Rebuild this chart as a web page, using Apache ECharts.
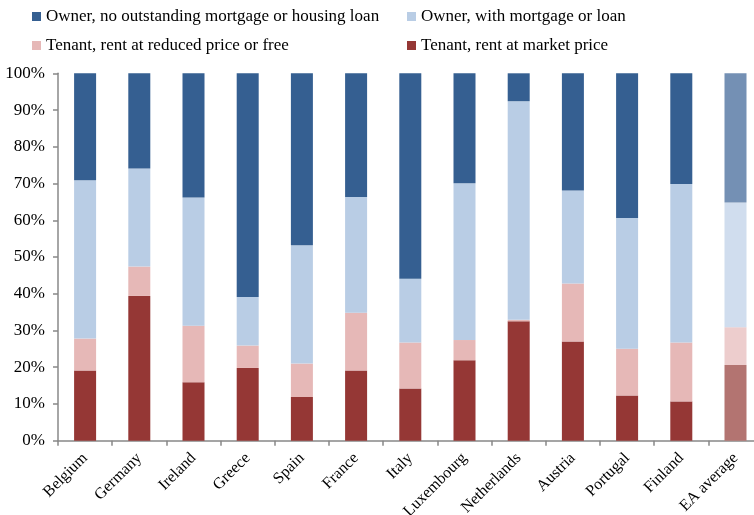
<!DOCTYPE html>
<html>
<head>
<meta charset="utf-8">
<script src="https://cdn.jsdelivr.net/npm/echarts@6/dist/echarts.min.js"></script>
<style>
html,body{margin:0;padding:0;background:#fff;}
#chart{width:754px;height:515px;}
</style>
</head>
<body>
<div id="chart"></div>
<script>
var categories = ['Belgium','Germany','Ireland','Greece','Spain','France','Italy','Luxembourg','Netherlands','Austria','Portugal','Finland','EA average'];
var marketRent   = [19.1, 39.4, 15.9, 19.8, 11.9, 19.1, 14.2, 21.9, 32.5, 27.0, 12.3, 10.7, 20.6];
var reducedRent  = [8.7, 8.0, 15.4, 6.1, 9.1, 15.7, 12.5, 5.5, 0.4, 15.8, 12.7, 16.0, 10.3];
var withMortgage = [43.1, 26.7, 34.9, 13.2, 32.2, 31.5, 17.4, 42.7, 59.5, 25.3, 35.6, 43.2, 33.9];
var noMortgage   = [29.1, 25.9, 33.8, 60.9, 46.8, 33.7, 55.9, 29.9, 7.6, 31.9, 39.4, 30.1, 35.2];
var yTicks = [0,10,20,30,40,50,60,70,80,90,100];

var names = {
  own: 'Owner, no outstanding mortgage or housing loan',
  mort: 'Owner, with mortgage or loan',
  red: 'Tenant, rent at reduced price or free',
  mkt: 'Tenant, rent at market price'
};
var colors = {own:'#355F91', mort:'#B9CDE5', red:'#E6B8B7', mkt:'#953735'};
var eaColors = {own:'#7490B4', mort:'#D0DDEE', red:'#EDCDCD', mkt:'#B37471'};

function mk(vals, key){
  return vals.map(function(v,i){
    if (categories[i] === 'EA average') {
      return {value: v, itemStyle: {color: eaColors[key]}};
    }
    return v;
  });
}

var font = 'Liberation Serif';
var fs = 17;
var chart = echarts.init(document.getElementById('chart'));
function legend(name, left, top){
  return {
    data:[name], left:left, top:top, itemWidth:9, itemHeight:9, icon:'rect',
    padding:0, textStyle:{fontFamily:font, fontSize:fs, color:'#000'},
    selectedMode:false
  };
}
chart.setOption({
  animation:false,
  textStyle:{fontFamily:font},
  legend:[
    legend(names.own, 32, 8),
    legend(names.mort, 407, 8),
    legend(names.red, 32, 37),
    legend(names.mkt, 407, 37)
  ],
  grid:{left:58, top:73.3, width:704.6, bottom:74.3, containLabel:false, outerBoundsMode:'none'},
  xAxis:{
    type:'category', data:categories,
    axisLine:{lineStyle:{color:'#888', width:1.5}},
    axisTick:{show:true, length:5, lineStyle:{color:'#888', width:1.5}},
    axisLabel:{rotate:45, margin:15, fontFamily:font, fontSize:16, color:'#000', interval:0}
  },
  yAxis:{
    type:'value', min:0, max:100, interval:10,
    axisLine:{show:true, lineStyle:{color:'#888', width:1.5}},
    axisTick:{show:true, length:5, lineStyle:{color:'#888', width:1.5}},
    splitLine:{show:false},
    axisLabel:{formatter:'{value}%', margin:13, fontFamily:font, fontSize:fs, color:'#000'}
  },
  series:[
    {name:names.mkt, type:'bar', stack:'t', barWidth:22, data:mk(marketRent,'mkt'), itemStyle:{color:colors.mkt}},
    {name:names.red, type:'bar', stack:'t', data:mk(reducedRent,'red'), itemStyle:{color:colors.red}},
    {name:names.mort, type:'bar', stack:'t', data:mk(withMortgage,'mort'), itemStyle:{color:colors.mort}},
    {name:names.own, type:'bar', stack:'t', data:mk(noMortgage,'own'), itemStyle:{color:colors.own}}
  ]
});
</script>
</body>
</html>
